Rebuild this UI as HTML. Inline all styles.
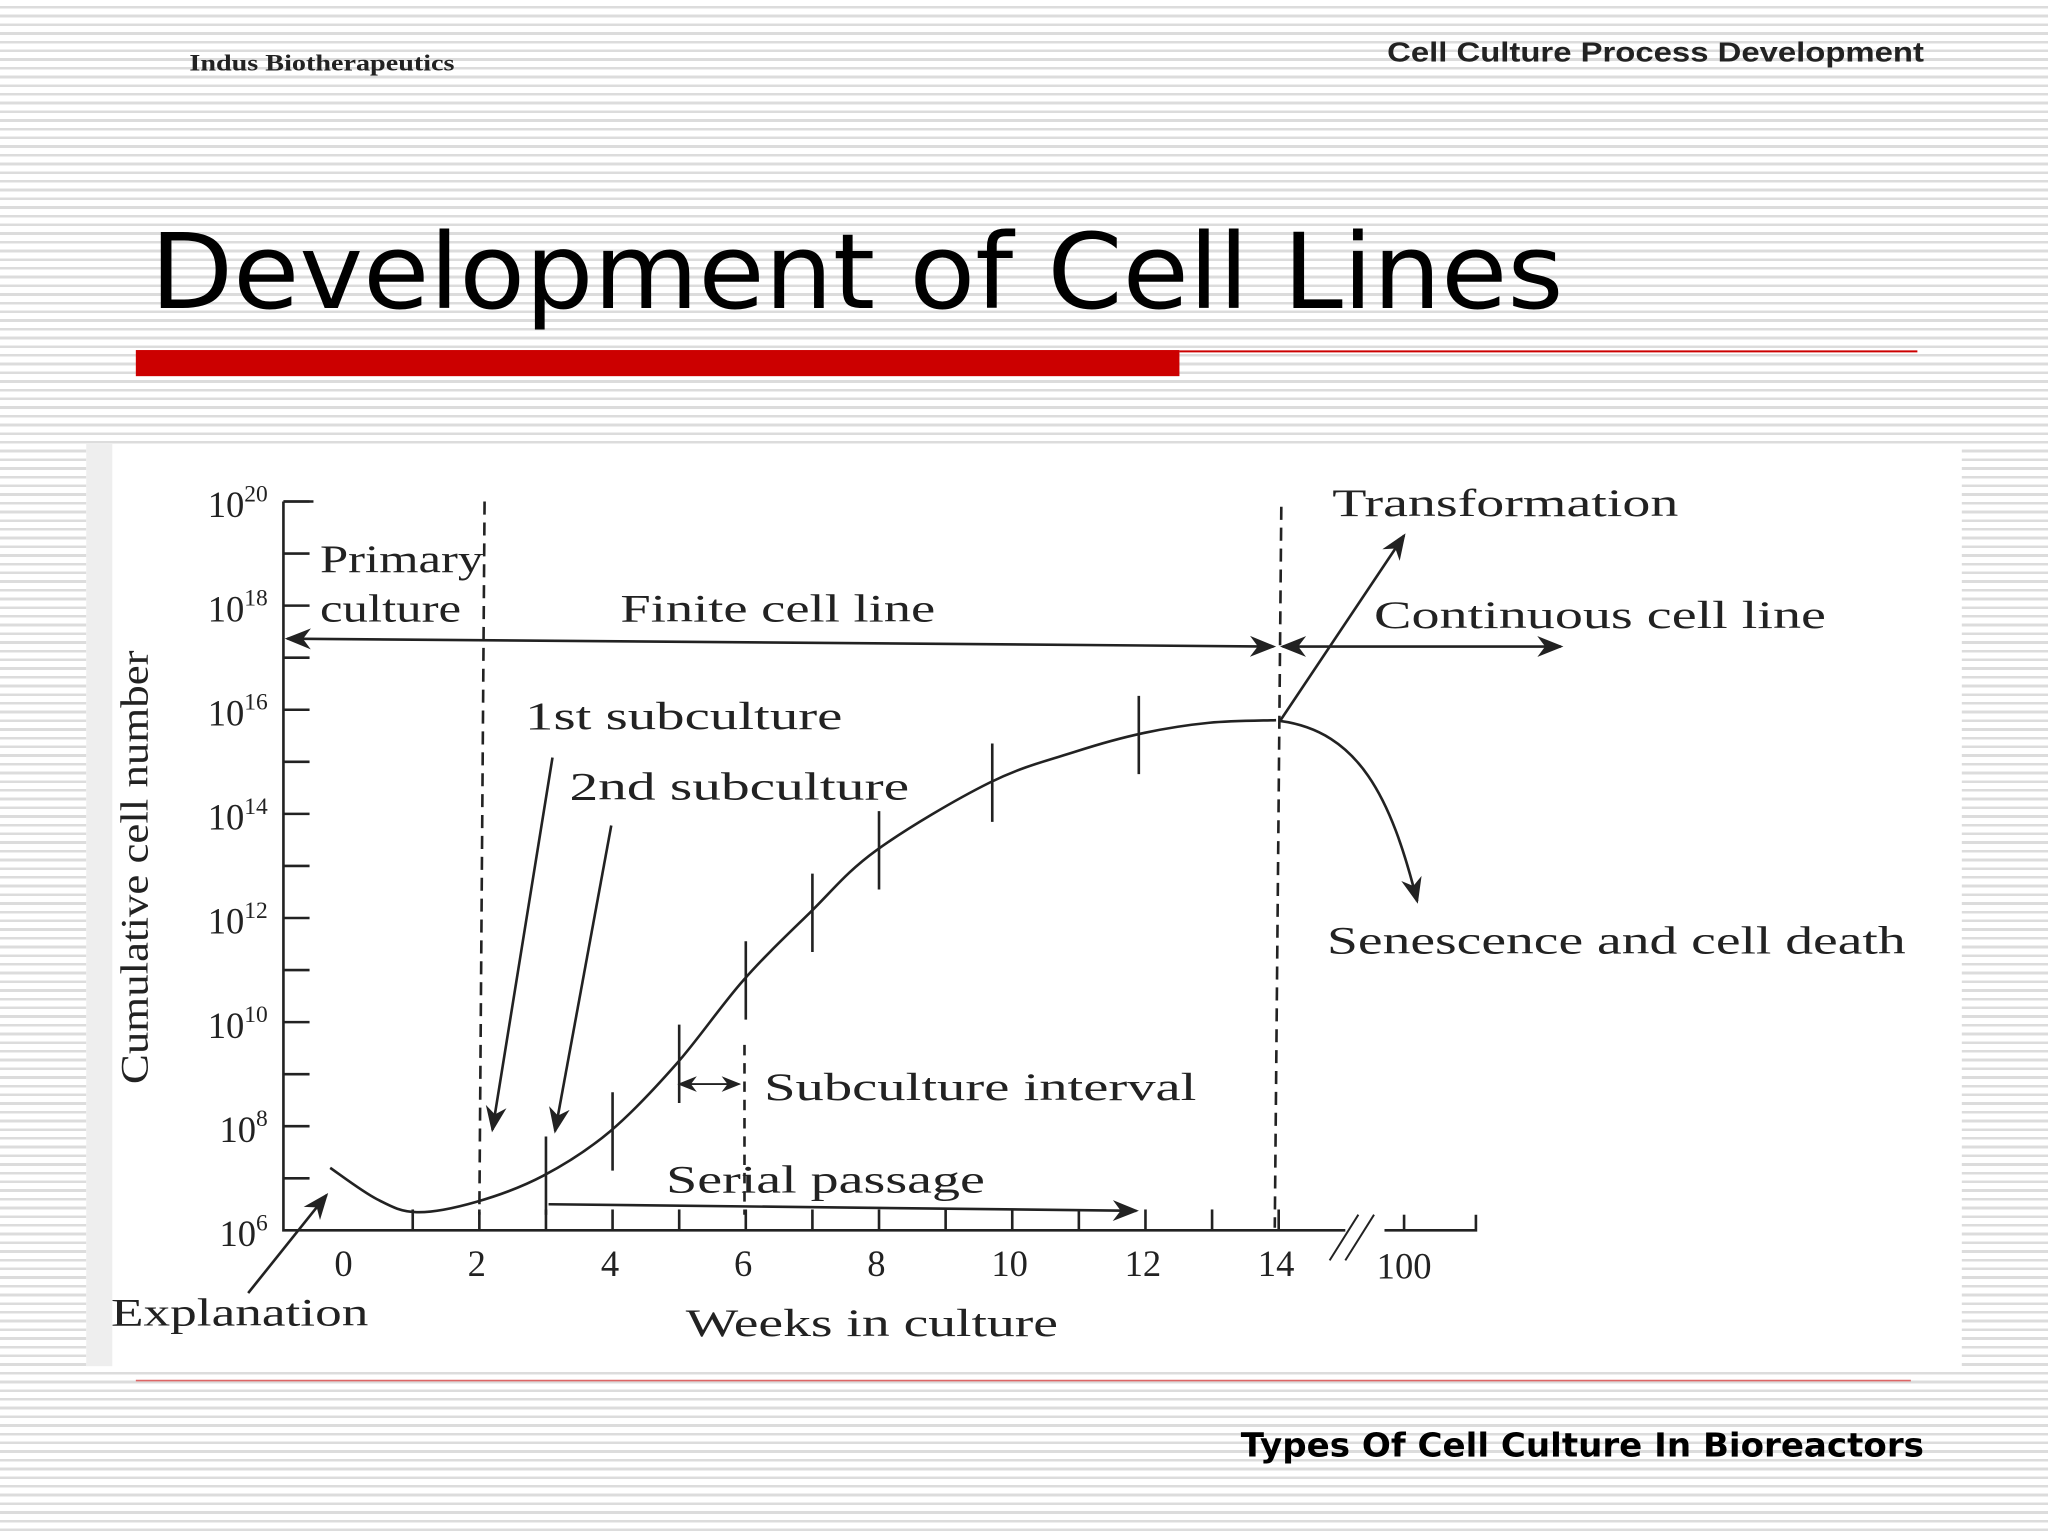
<!DOCTYPE html>
<html><head><meta charset="utf-8"><style>
html,body{margin:0;padding:0;width:2048px;height:1536px;overflow:hidden;}
body{background:repeating-linear-gradient(to bottom,#fff 0px,#fff 6px,#dcdcdc 6px,#dcdcdc 8.7px);}
svg{position:absolute;left:0;top:0;}
text{font-family:"Liberation Serif",serif;fill:#222;}
</style></head><body>
<svg width="2048" height="1536" viewBox="0 0 1568 1176">
<text x="145" y="54" font-size="18" textLength="203" lengthAdjust="spacingAndGlyphs" style="font-weight:bold">Indus Biotherapeutics</text>
<text x="1062" y="47" font-size="21" textLength="411" lengthAdjust="spacingAndGlyphs" style="font-family:'Liberation Sans',sans-serif;font-weight:bold">Cell Culture Process Development</text>
<text x="115" y="236" font-size="80" textLength="1082" lengthAdjust="spacingAndGlyphs" style="font-family:'DejaVu Sans',sans-serif;fill:#000">Development of Cell Lines</text>
<rect x="104" y="268" width="799" height="20" fill="#cc0000"/>
<line x1="903" y1="269" x2="1468" y2="269" stroke="#cc0000" stroke-width="1.5"/>
<rect x="66" y="340" width="1436" height="706" fill="#fff"/>
<rect x="66" y="340" width="20" height="706" fill="#eee"/>
<line x1="104" y1="1057" x2="1463" y2="1057" stroke="#dd6666" stroke-width="1.2"/>
<text x="950" y="1115" font-size="25" textLength="523" lengthAdjust="spacingAndGlyphs" style="font-family:'DejaVu Sans',sans-serif;font-weight:bold;fill:#000">Types Of Cell Culture In Bioreactors</text>
<g id="chart"></g>
</svg>
<script>
const weeks=[-0.2,0.5,1.1,2,3,4,5,6,7,8,9.7,11,12,13,14];
const logN=[7.2,6.6,6.35,6.55,7.05,7.9,9.2,10.8,12.1,13.3,14.6,15.2,15.55,15.75,15.8];
const tickWeeks=[3,4,5,6,7,8,9.7,11.9];
const xTicks=[0,2,4,6,8,10,12,14];
const yExp=[6,8,10,12,14,16,18,20];
const NS="http://www.w3.org/2000/svg";
const g=document.getElementById('chart');
const X=w=>263+w*51, Y=e=>942-(e-6)*39.86;
function el(t,a,txt){const e=document.createElementNS(NS,t);for(const k in a)e.setAttribute(k,a[k]);if(txt!==undefined)e.textContent=txt;g.appendChild(e);return e;}
const st={stroke:'#222','stroke-width':2,fill:'none'};
let ax=el('path',Object.assign({d:`M217 ${Y(20)} H240 M217 ${Y(20)} V942 H1030 M1060 942 H1130 V930`},st));


el('path',{d:'M1018 965 L1040 930 M1030 965 L1052 930',stroke:'#222','stroke-width':1.5});
for(let e=7;e<=20;e++){el('line',Object.assign({x1:217,x2:237,y1:Y(e),y2:Y(e)},st));}
yExp.forEach(e=>{const t=el('text',{x:205,y:Y(e)+12,'font-size':28,'text-anchor':'end'},'10');
const s=document.createElementNS(NS,'tspan');s.setAttribute('dy','-12');s.setAttribute('font-size','18');s.textContent=e;t.appendChild(s);

});
for(let w=1;w<=14;w++){el('line',Object.assign({x1:X(w)+2,x2:X(w)+2,y1:942,y2:926},st));}
el('line',Object.assign({x1:1075,x2:1075,y1:942,y2:930},st));
xTicks.forEach(w=>{const t=el('text',{x:X(w),y:977,'font-size':28,'text-anchor':'middle'},w);

});
el('text',{x:1075,y:979,'font-size':28,'text-anchor':'middle'},'100');
let yt=el('text',{x:0,y:0,'font-size':30,transform:'translate(113,664) rotate(-90)','text-anchor':'middle',textLength:332,lengthAdjust:'spacingAndGlyphs'},'Cumulative cell number');


let xt=el('text',{x:525,y:1023,'font-size':30,textLength:285,lengthAdjust:'spacingAndGlyphs'},'Weeks in culture');


const P=weeks.map((w,i)=>[X(w),Y(logN[i])]);
let d=`M${P[0][0]} ${P[0][1]}`;
for(let i=0;i<P.length-1;i++){const p0=P[Math.max(i-1,0)],p1=P[i],p2=P[i+1],p3=P[Math.min(i+2,P.length-1)];
d+=` C${p1[0]+(p2[0]-p0[0])/6} ${p1[1]+(p2[1]-p0[1])/6} ${p2[0]-(p3[0]-p1[0])/6} ${p2[1]-(p3[1]-p1[1])/6} ${p2[0]} ${p2[1]}`;}
let c=el('path',Object.assign({d:d},st));


function interp(w){for(let i=0;i<weeks.length-1;i++)if(w>=weeks[i]&&w<=weeks[i+1]){const f=(w-weeks[i])/(weeks[i+1]-weeks[i]);return logN[i]+f*(logN[i+1]-logN[i]);}return logN[logN.length-1];}
tickWeeks.forEach(w=>{const y=Y(interp(w));const m=el('line',Object.assign({x1:X(w)+2,x2:X(w)+2,y1:y-30,y2:y+30},st));

});
el('line',{x1:371,x2:367,y1:384,y2:930,stroke:'#222','stroke-width':2,'stroke-dasharray':'10 6'});
el('line',{x1:570,x2:570,y1:800,y2:930,stroke:'#222','stroke-width':2,'stroke-dasharray':'8 6'});
el('line',{x1:981,x2:976,y1:388,y2:940,stroke:'#222','stroke-width':2,'stroke-dasharray':'10 6'});
el('defs',{}).innerHTML='<marker id="ah" markerWidth="10" markerHeight="10" refX="9" refY="5" orient="auto-start-reverse"><path d="M0,1 L10,5 L0,9 L3,5z" fill="#222"/></marker>';
const A=(d)=>el('path',{d:d,stroke:'#222','stroke-width':2,fill:'none','marker-end':'url(#ah)'});
el('path',{d:'M220 489 L975 495',stroke:'#222','stroke-width':2,fill:'none','marker-start':'url(#ah)','marker-end':'url(#ah)'});
el('path',{d:'M982 495 L1195 495',stroke:'#222','stroke-width':2,fill:'none','marker-start':'url(#ah)','marker-end':'url(#ah)'});
A('M980 552 L1075 410');
A('M980 552 C1040 560 1065 610 1085 690');
A('M423 580 L377 865');
A('M468 632 L425 866');
A('M190 990 L250 915');
A('M420 922 L870 927');
el('path',{d:'M520 830 L566 830',stroke:'#222','stroke-width':1.5,fill:'none','marker-start':'url(#ah)','marker-end':'url(#ah)'});
const L=[[245,438,'Primary',125],[245,476,'culture',108],[475,476,'Finite cell line',241],[402,558,'1st subculture',243],[436,612,'2nd subculture',260],[585,842,'Subculture interval',331],[510,913,'Serial passage',244],[85,1015,'Explanation',197],[1020,395,'Transformation',265],[1052,481,'Continuous cell line',346],[1016,730,'Senescence and cell death',443]];
L.forEach(l=>{const t=el('text',{x:l[0],y:l[1],'font-size':30,textLength:l[3],lengthAdjust:'spacingAndGlyphs'},l[2]);

});
</script>
</body></html>
